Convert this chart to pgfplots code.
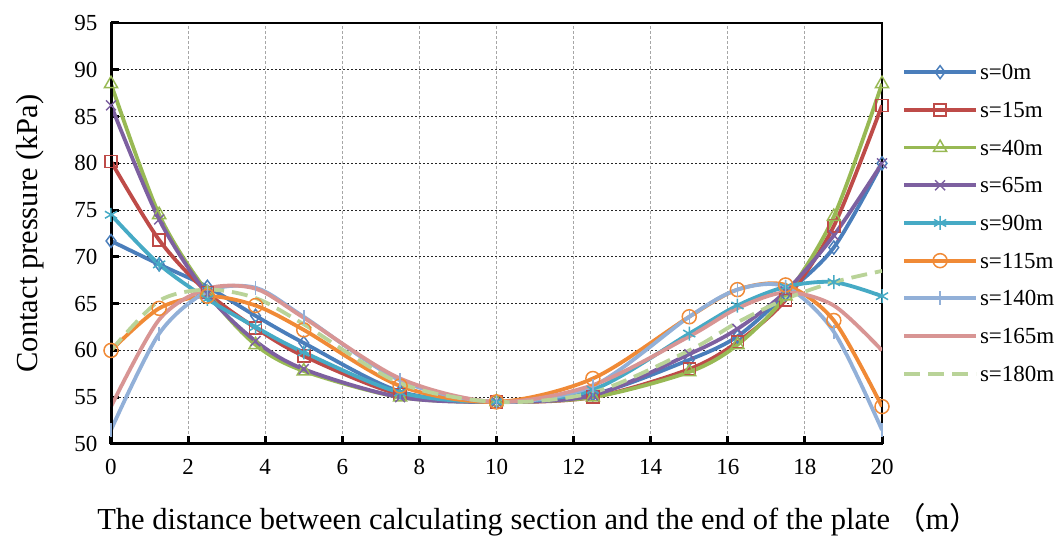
\documentclass[border=0pt]{standalone}
\usepackage{fontspec}
\setmainfont{Liberation Serif}
\newfontfamily\cjk{Noto Sans CJK SC}
\usepackage{pgfplots}
\pgfplotsset{compat=1.18}
\definecolor{c1}{HTML}{4A7EBB}
\definecolor{c2}{HTML}{BE4B48}
\definecolor{c3}{HTML}{98B954}
\definecolor{c4}{HTML}{7D60A0}
\definecolor{c5}{HTML}{46AAC5}
\definecolor{c6}{HTML}{F08A36}
\definecolor{c7}{HTML}{92B0D8}
\definecolor{c8}{HTML}{D89594}
\definecolor{c9}{HTML}{B9D398}
\begin{document}
\begin{tikzpicture}
\begin{axis}[
  scale only axis, width=771pt, height=421pt,
  xmin=0, xmax=20, ymin=50, ymax=95,
  xtick={0,2,...,20}, ytick={50,55,...,95},
  /pgf/number format/assume math mode=true,
  tick label style={font=\rmfamily\fontsize{23}{27}\selectfont},
  xticklabel style={yshift=-12pt},
  yticklabel style={xshift=-10pt},
  xlabel={The distance between calculating section and the end of the plate\,{\cjk （}m{\cjk ）}},
  ylabel={Contact pressure (kPa)},
  label style={font=\rmfamily\fontsize{30.5}{34}\selectfont},
  xlabel style={at={(rel axis cs:0.5,0)}, anchor=center, yshift=-76pt, xshift=42pt},
  ylabel style={at={(rel axis cs:0,0.5)}, anchor=center, yshift=81pt},
  grid=major,
  x grid style={gray!70, dash pattern=on 2.5pt off 2.5pt, line width=1pt},
  y grid style={black!85, dash pattern=on 2pt off 2pt, line width=1pt},
  axis line style={black, line width=1.2pt},
  xtick pos=left, ytick pos=left,
  tick align=inside, major tick length=8pt,
  tick style={black, line width=3pt},
  every axis plot/.append style={line width=3.8pt, smooth, tension=0.5},
  legend image code/.code={\draw[mark repeat=2,mark phase=2,#1] plot coordinates {(0pt,0pt) (36pt,0pt) (72pt,0pt)};},
  legend style={at={(axis description cs:1,0.525)}, anchor=west, xshift=17pt, draw=none, fill=none,
    font=\rmfamily\fontsize{23}{27}\selectfont, row sep=0pt,
    nodes={inner sep=2pt, text height=24.35pt, text depth=9.35pt}},
  legend cell align=left,
]
\addplot[c1, mark=diamond, mark size=6.5pt, mark options={solid, fill=white, line width=1.5pt}] coordinates {
(0,71.7)(1.25,69.2)(2.5,66.8)(3.75,63.7)(5,60.8)(7.5,55.6)(10,54.5)(12.5,55.3)(15,59.0)(16.25,61.5)(17.5,66.0)(18.75,71.0)(20,80.0)};
\addlegendentry{s=0m}
\addplot[c2, mark=square, mark size=6pt, mark options={solid, fill=white, line width=1.5pt}] coordinates {
(0,80.2)(1.25,71.8)(2.5,66.2)(3.75,62.4)(5,59.4)(7.5,55.3)(10,54.5)(12.5,55.0)(15,58.0)(16.25,60.9)(17.5,65.4)(18.75,73.3)(20,86.2)};
\addlegendentry{s=15m}
\addplot[c3, mark=triangle, mark size=7.5pt, mark options={solid, fill=white, line width=1.5pt}] coordinates {
(0,88.5)(1.25,74.5)(2.5,66.2)(3.75,60.6)(5,57.8)(7.5,55.0)(10,54.5)(12.5,55.0)(15,57.7)(16.25,60.6)(17.5,65.8)(18.75,74.3)(20,88.5)};
\addlegendentry{s=40m}
\addplot[c4, mark=x, mark size=7pt, mark options={solid, line width=1.5pt}] coordinates {
(0,86.2)(1.25,74.0)(2.5,66.0)(3.75,61.0)(5,58.0)(7.5,55.0)(10,54.5)(12.5,55.2)(15,59.6)(16.25,62.3)(17.5,66.3)(18.75,72.3)(20,80.0)};
\addlegendentry{s=65m}
\addplot[c5, mark=asterisk, mark size=7pt, mark options={solid, line width=1.5pt}] coordinates {
(0,74.5)(1.25,69.2)(2.5,65.5)(3.75,62.5)(5,59.8)(7.5,55.5)(10,54.5)(12.5,55.8)(15,61.8)(16.25,64.8)(17.5,66.8)(18.75,67.3)(20,65.8)};
\addlegendentry{s=90m}
\addplot[c6, mark=o, mark size=7pt, mark options={solid, fill=white, line width=1.5pt}] coordinates {
(0,60.0)(1.25,64.5)(2.5,65.8)(3.75,64.8)(5,62.2)(7.5,56.2)(10,54.5)(12.5,57.0)(15,63.6)(16.25,66.5)(17.5,67.0)(18.75,63.2)(20,54.0)};
\addlegendentry{s=115m}
\addplot[c7, mark=|, mark size=7pt, mark options={solid, line width=1.5pt}] coordinates {
(0,51.5)(1.25,61.8)(2.5,66.3)(3.75,66.7)(5,63.6)(7.5,56.8)(10,54.5)(12.5,56.2)(15,63.6)(16.25,66.5)(17.5,66.8)(18.75,62.0)(20,51.5)};
\addlegendentry{s=140m}
\addplot[c8] coordinates {
(0,54.0)(1.25,63.3)(2.5,66.6)(3.75,66.6)(5,63.5)(7.5,57.0)(10,54.5)(12.5,56.3)(15,61.5)(16.25,64.5)(17.5,66.2)(18.75,64.8)(20,60.0)};
\addlegendentry{s=165m}
\addplot[c9, dash pattern=on 16pt off 8pt] coordinates {
(0,60.0)(1.25,65.3)(2.5,66.5)(3.75,65.6)(5,62.8)(7.5,56.5)(10,54.5)(12.5,55.5)(15,60.0)(16.25,63.0)(17.5,65.5)(18.75,67.3)(20,68.5)};
\addlegendentry{s=180m}
\draw[black, line width=4.5pt, line cap=rect] (rel axis cs:0,1) -- (rel axis cs:0,0) -- (rel axis cs:1,0);
\coordinate (bl) at ([shift={(-111pt,-92pt)}]rel axis cs:0,0);
\coordinate (tr) at ([shift={(181pt,23pt)}]rel axis cs:1,1);
\end{axis}
\pgfresetboundingbox
\path[use as bounding box] (bl) rectangle (tr);
\end{tikzpicture}
\end{document}
